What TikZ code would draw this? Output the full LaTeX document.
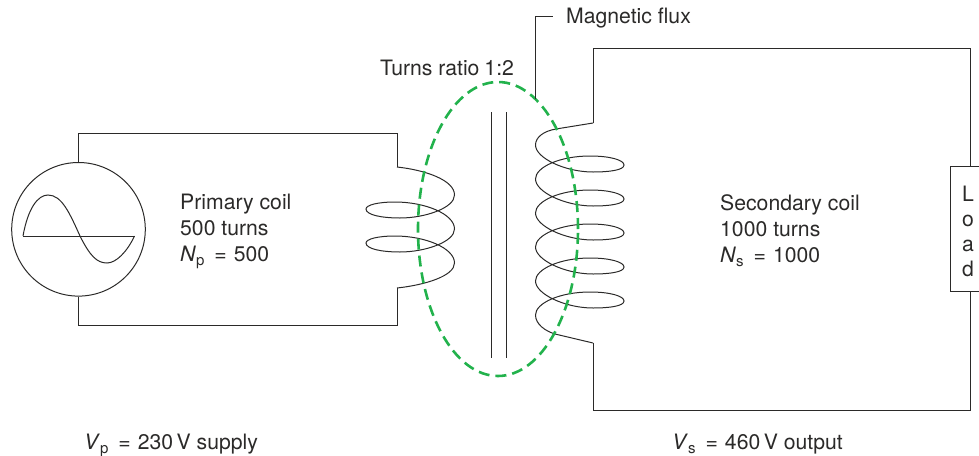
\documentclass[tikz,border=0pt]{standalone}
\usepackage{fontspec}
\usetikzlibrary{shapes.geometric}
\setmainfont{TeX Gyre Heros}
\definecolor{ink}{HTML}{2B2A29}
\definecolor{fluxgreen}{HTML}{22B24C}
\newcommand{\subs}[1]{\raisebox{-4pt}{\fontsize{15}{15}\selectfont #1}}
\newcommand{\eqs}{\hspace{10pt}=\hspace{7pt}}
\tikzset{
  wire/.style={draw=ink,line width=1pt},
  coil/.style={draw=ink,line width=1pt},
  label/.style={text=ink,inner sep=0pt,align=left,font=\fontsize{21.2}{26}\selectfont},
  stacked/.style={label,font=\fontsize{21.2}{25}\selectfont},
  flux/.style={draw=fluxgreen,line width=2.6pt,dash pattern=on 11pt off 6pt},
}
\begin{document}
\begin{tikzpicture}[x=1pt,y=-1pt]
\useasboundingbox (0,0) rectangle (979,455);
% source
\node[circle,draw=ink,line width=1pt,minimum size=133.6pt,inner sep=0pt] (src) at (78.5,229.3) {};
\draw[wire] (23,236) -- (134.5,236);
\draw[coil] (23,236) .. controls (28,208) and (38,195) .. (48,195)
  .. controls (62,195) and (70,214) .. (80,236)
  .. controls (90,256) and (97,263) .. (107,263)
  .. controls (116,263) and (127,252) .. (134.5,236);
% primary wiring
\coordinate (p1) at (397,167);
\coordinate (p2) at (397,288);
\draw[wire] (src.north) |- (397,133) -- (p1);
\draw[wire] (src.south) |- (397,325) -- (p2);
% primary coil
\draw[coil] (p1) .. controls (425,170) and (454.5,180) .. (454.5,195)
  .. controls (454.5,208) and (425,218) .. (400,218)
  .. controls (382,218) and (366,215) .. (366,209)
  .. controls (366,205) and (378,202) .. (395,202)
  .. controls (425,202) and (454.5,214) .. (454.5,229)
  .. controls (454.5,242) and (425,252) .. (400,252)
  .. controls (382,252) and (366,249) .. (366,243)
  .. controls (366,239) and (378,236) .. (395,236)
  .. controls (425,236) and (454.5,248) .. (454.5,263)
  .. controls (454.5,276) and (425,285) .. (p2);
% secondary wiring
\coordinate (s1) at (593,123);
\coordinate (s2) at (593,343);
\node[draw=ink,line width=1pt,minimum width=60pt,minimum height=125pt,inner sep=0pt] (load) at (980,228.5) {};
\draw[wire] (s1) -- (593,48) -| (970,166);
\draw[wire] (s2) -- (593,410) -| (970,291);
% secondary coil
\draw[coil] (s1) -- (556,129) .. controls (544,131) and (535.5,137) .. (535.5,145)
  \foreach \o in {0,34,68,102,136}{
  .. controls (535.5,{158+\o}) and (565,{172+\o}) .. (593,{172+\o})
  .. controls (610,{172+\o}) and (624,{170+\o}) .. (624,{165+\o})
  .. controls (624,{160+\o}) and (610,{156+\o}) .. (590,{156+\o})
  .. controls (560,{156+\o}) and (535.5,{167+\o}) .. (535.5,{179+\o})
  }
  .. controls (535.5,324) and (545,331) .. (555,334) -- (s2);
% core
\coordinate (c1) at (491,112); \coordinate (c2) at (491,358);
\coordinate (c3) at (506,112); \coordinate (c4) at (506,358);
\draw[wire] (c1) -- (c2);
\draw[wire] (c3) -- (c4);
% flux
\node[ellipse,flux,minimum width=160pt,minimum height=294pt,inner sep=0pt] (fluxloop) at (498,229) {};
\coordinate (lead) at (535.5,99);
\node[label,anchor=base west] (fluxlabel) at (566,23.5) {Magnetic flux};
\draw[wire] (lead) |- (553,16);
\node[label,anchor=base west] (ratio) at (380,75) {Turns ratio\hspace{5pt}1:2};
% texts
\node[label,anchor=west] (prim) at (180,231) {Primary coil\\500 turns\\\textit{N}\subs{p}\eqs 500};
\node[label,anchor=west] (sec) at (720,231) {Secondary coil\\1000 turns\\\textit{N}\subs{s}\eqs 1000};
\node[label,anchor=base west] (vp) at (84,449) {\textit{V}\subs{p}\eqs 230\,V supply};
\node[label,anchor=base west] (vs) at (672,449) {\textit{V}\subs{s}\eqs 460\,V output};
\node[stacked,anchor=west] (loadtxt) at (962,231) {L\\o\\a\\d};
\end{tikzpicture}
\end{document}
